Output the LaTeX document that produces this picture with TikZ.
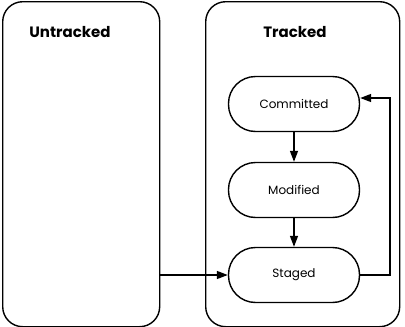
\documentclass[tikz,border=0pt]{standalone}
\usepackage{fontspec}
\setmainfont{Poppins}
\usetikzlibrary{arrows.meta}
\begin{document}
\begin{tikzpicture}[x=1pt,y=1pt,
  frame/.style={draw, line width=1.4pt, rounded corners=20pt},
  state/.style={draw, line width=1.4pt, rounded corners=27pt, minimum width=131pt, minimum height=55pt, font=\fontsize{12}{14}\selectfont},
  title/.style={font=\fontsize{15}{17}\selectfont\bfseries},
  conn/.style={line width=1.4pt, -{Triangle[length=11pt,width=8pt]}}]
\useasboundingbox (0,0) rectangle (405,-327);
\node[frame, minimum width=157pt, minimum height=325pt, anchor=north west] (untr) at (2,-1) {};
\node[frame, minimum width=194pt, minimum height=325pt, anchor=north west] (tr) at (205,-1) {};
\node[title] (tu) at (70,-32) {Untracked};
\node[title] (tt) at (295,-32) {Tracked};
\node[state] (com) at (294,-104) {Committed};
\node[state] (mod) at (294,-190) {Modified};
\node[state] (stg) at (294,-275) {Staged};
\coordinate (c1) at (390,-98);
\draw[conn] (com) -- (mod);
\draw[conn] (mod) -- (stg);
\draw[conn] (untr.east |- stg) -- (stg);
\draw[conn] (stg.east) -| (c1) -- (com.east |- c1);
\end{tikzpicture}
\end{document}
